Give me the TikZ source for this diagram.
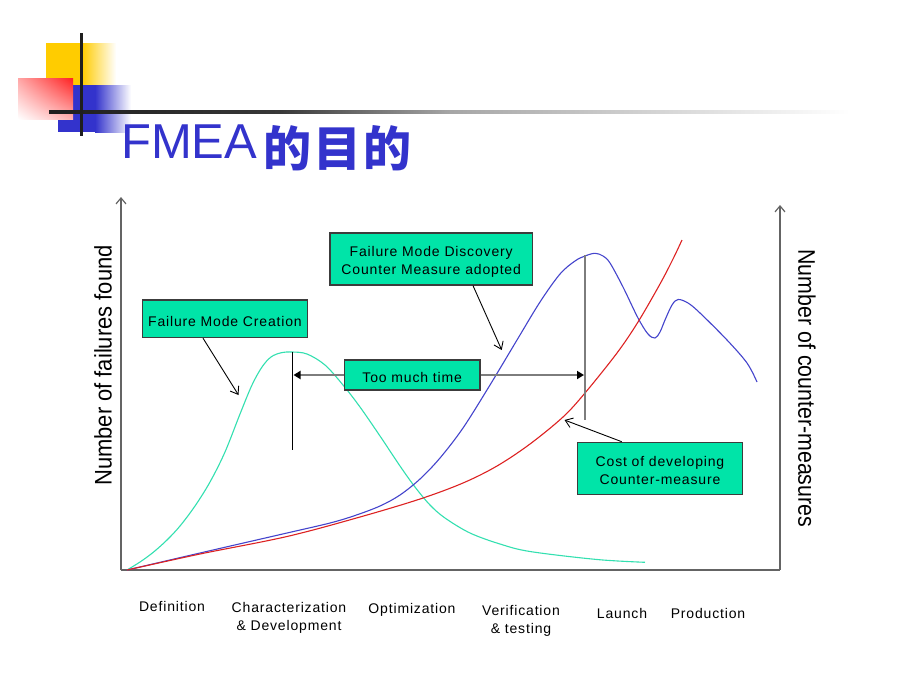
\documentclass[tikz,border=0pt]{standalone}
\usepackage{fontspec}
\setmainfont{Liberation Sans}
\newfontfamily\boxfont{Liberation Sans}[LetterSpace=6]
\newfontfamily\cjkfont{Noto Sans CJK SC}
\usetikzlibrary{arrows.meta,shadings}
\newcommand\lowerline[1]{\raisebox{-2.5pt}[\height][\depth]{#1}}
\definecolor{boxgreen}{RGB}{0,228,168}
\definecolor{boxedge}{RGB}{60,60,60}
\definecolor{greencurve}{RGB}{51,224,176}
\definecolor{bluecurve}{RGB}{68,68,204}
\definecolor{redcurve}{RGB}{221,34,34}
\definecolor{titleblue}{RGB}{51,51,204}
\definecolor{decoyellow}{RGB}{255,204,0}
\definecolor{decoblue}{RGB}{51,51,204}
\definecolor{decored}{RGB}{255,32,32}
\definecolor{axisgray}{RGB}{100,100,100}
\definecolor{markgray}{RGB}{125,125,125}
\tikzset{
  gbox/.style={draw=boxedge, fill=boxgreen, line width=1.2pt, inner sep=0pt, align=center,
    font=\boxfont\fontsize{14}{18}\selectfont, text=black},
  axisline/.style={draw=axisgray, line width=1.8pt},
  axisarrow/.style={axisline, -{Straight Barb[length=6pt,width=10pt,line width=1.2pt]}},
  annarrow/.style={draw=black, line width=0.9pt, -{Straight Barb[length=7pt,width=10pt,line width=0.9pt]}},
  spanline/.style={draw=markgray, line width=2.4pt, -{Triangle[length=7pt,width=8pt,color=black,fill=black]}},
  curve/.style={line width=1.1pt, line join=round},
  steplabel/.style={font=\boxfont\fontsize{14}{18}\selectfont, align=center, inner sep=0pt}
}
\begin{document}
\begin{tikzpicture}[x=1pt,y=-1pt]
\useasboundingbox (0,0) rectangle (900,675);
\fill[white] (0,0) rectangle (900,675);

% decoration
\fill[decoyellow] (46,43) rectangle (82,85);
\shade[left color=decoyellow, right color=white] (82,43) rectangle (116,85);
\fill[decoblue] (58,85) rectangle (95,132);
\shade[left color=decoblue, right color=white] (95,85) rectangle (131,132);
\shade[upper right=decored, upper left=decored!40, lower right=decored!35, lower left=white] (18,78) rectangle (73,119);
\shade[left color=black!88, right color=black!78] (49,110.5) rectangle (280,113.5);
\shade[left color=black!78, right color=black!35] (280,110.5) rectangle (450,113.5);
\shade[left color=black!35, right color=white] (450,110.5) rectangle (850,113.5);
\fill[black!88] (79.7,33) rectangle (82.7,136);

% title
\node[anchor=base west, inner sep=0pt, text=titleblue, font=\fontsize{49}{55}\selectfont] (title) at (121,158)
  {FMEA\hspace{6pt}{\cjkfont\bfseries\fontsize{48}{50}\selectfont\raisebox{-8.5pt}{的\hspace{2pt}目\hspace{2pt}的}}};

% axes
\coordinate (org) at (121,570);
\coordinate (ytop) at (121,197);
\coordinate (xend) at (780,570);
\coordinate (y2top) at (780,205);
\draw[axisline] (org) -- (xend);
\draw[axisarrow] (org) -- (ytop);
\draw[axisarrow] (xend) -- (y2top);

\node[anchor=base, rotate=90, inner sep=0pt, font=\fontsize{24}{28}\selectfont] (ylab) at (111.7,365.5) {\scalebox{0.915}[1]{Number of failures found}};
\node[anchor=base, rotate=-90, inner sep=0pt, font=\fontsize{24}{28}\selectfont] (y2lab) at (798.3,388.3) {\scalebox{0.89}[1]{Number of counter-measures}};

% curves
\draw[curve, greencurve] plot[smooth, tension=0.55] coordinates {
 (127,570) (140,562) (153,552.5) (167,540) (180,526) (195,506) (210,482) (225,452) (240,414)
 (252,385) (262,367) (271,357) (281,352.8) (292,352) (307,354) (325,365) (343,385) (360,407)
 (380,436) (400,466) (415,487) (430,505) (445,518) (470,533) (500,544) (530,551.5) (597,559.5)
 (645,562.3)};
\draw[curve, bluecurve] plot[smooth, tension=0.55] coordinates {
 (127,570) (200,553) (287,533) (330,523) (355,515.5) (380,506) (400,495) (420,479) (440,458)
 (463,428) (490,385) (517,340) (540,302) (560,274) (575,261) (585,256) (595,253.3) (603,256)
 (610,263) (623,287) (638,318) (648,334) (655,338) (660,332) (665,320) (672,305) (678,299.5)
 (688,303) (700,313) (727,340) (747,363) (757,382)};
\draw[curve, redcurve] plot[smooth, tension=0.55] coordinates {
 (127,570) (200,554) (287,536.5) (360,517) (420,499) (463,483) (497,466) (530,444) (563,417)
 (585,393) (617,353) (638,322) (660,284) (673,259) (682,240)};

% marker lines
\coordinate (gpk) at (292.5,352);
\coordinate (gbot) at (292.5,449.5);
\coordinate (bpk) at (585,255);
\coordinate (bbot) at (585,419.5);
\draw[black, line width=1.2pt] (gpk) -- (gbot);
\draw[markgray, line width=2pt] (bpk) -- (bbot);

% boxes
\node[gbox, minimum width=165pt, minimum height=37.5pt] (fmc) at (225,318.8) {\lowerline{Failure Mode Creation}};
\node[gbox, minimum width=202.5pt, minimum height=52pt] (fmd) at (431.2,259) {\lowerline{Failure Mode Discovery}\\\lowerline{Counter Measure adopted}};
\node[gbox, minimum width=135.7pt, minimum height=30pt] (tmt) at (412.2,375) {\lowerline{Too much time}};
\node[gbox, minimum width=165.4pt, minimum height=52pt] (cost) at (660,468.3) {\lowerline{Cost of developing}\\\lowerline{Counter-measure}};

% span arrows
\coordinate (tmtl) at (293.5,375);
\coordinate (tmtr) at (584,375);
\draw[spanline] (tmt.west) -- (tmtl);
\draw[spanline] (tmt.east) -- (tmtr);

% annotation arrows
\coordinate (fmctip) at (238.5,395);
\coordinate (fmdtip) at (501.7,350);
\coordinate (costtip) at (564.5,420);
\draw[annarrow] ([xshift=-22pt]fmc.south) -- (fmctip);
\draw[annarrow] ([xshift=41.8pt]fmd.south) -- (fmdtip);
\draw[annarrow] ([xshift=-38.3pt]cost.north) -- (costtip);

% phase labels
\node[steplabel] (p1) at (172,606) {Definition};
\node[steplabel] (p2) at (289,617.5) {Characterization\\\& Development};
\node[steplabel] (p3) at (412,609.5) {Optimization};
\node[steplabel] (p4) at (521,621) {Verification\\\& testing};
\node[steplabel] (p5) at (622,613) {Launch};
\node[steplabel] (p6) at (708,613.5) {Production};
\end{tikzpicture}
\end{document}
